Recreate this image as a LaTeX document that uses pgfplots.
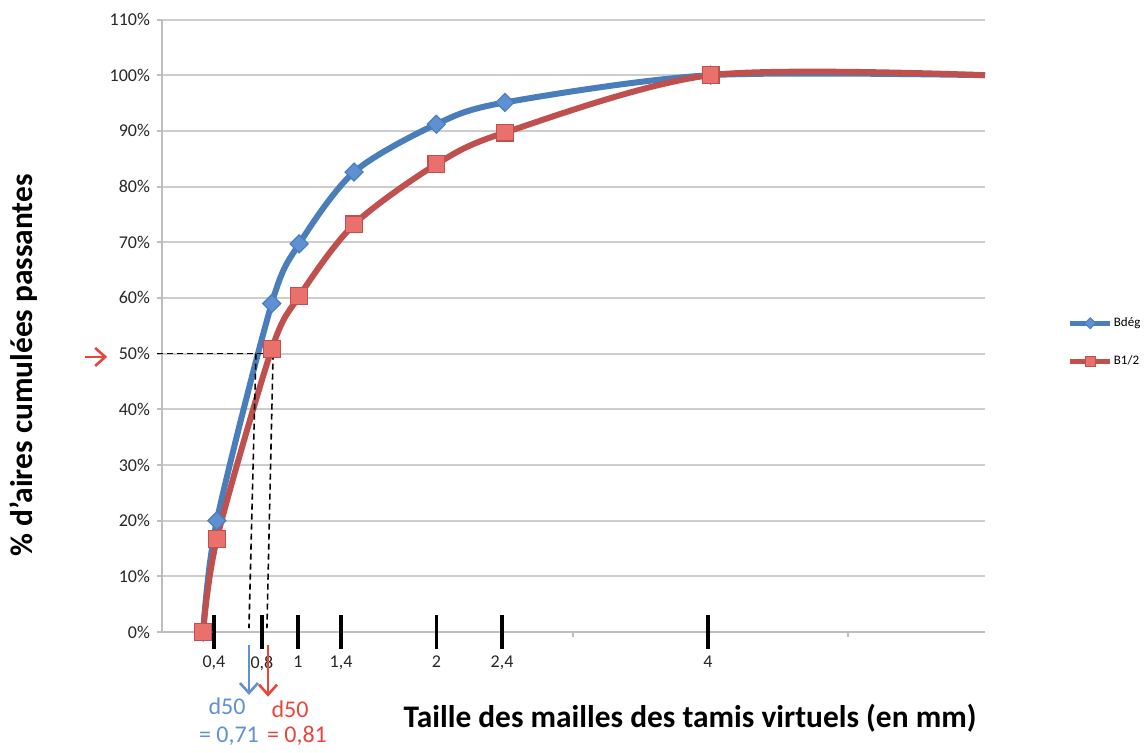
\documentclass[border=0pt]{standalone}
\usepackage{fontspec}
\setmainfont{Carlito}
\usepackage{pgfplots}
\pgfplotsset{compat=1.18}
\usetikzlibrary{arrows.meta}

\definecolor{gridgray}{RGB}{205,205,205}
\definecolor{axisgray}{RGB}{190,190,190}
\definecolor{bdegline}{RGB}{74,126,187}
\definecolor{bdegfill}{RGB}{95,145,210}
\definecolor{bhalfline}{RGB}{192,80,77}
\definecolor{bhalffill}{RGB}{234,112,108}
\definecolor{dblue}{RGB}{95,145,212}
\definecolor{dred}{RGB}{232,70,60}

\begin{document}
\begin{tikzpicture}
\useasboundingbox (-81pt,-60pt) rectangle (492pt,316pt);
\begin{axis}[
  at={(0,0)}, anchor=south west,
  scale only axis,
  width=411.5pt, height=306.25pt,
  xmin=0, xmax=6, ymin=0, ymax=110,
  axis x line*=bottom, axis y line*=left,
  axis line style={draw=axisgray, line width=1pt, -},
  ytick={0,10,...,110},
  yticklabels={0\%,10\%,20\%,30\%,40\%,50\%,60\%,70\%,80\%,90\%,100\%,110\%},
  ymajorgrids,
  major grid style={gridgray, line width=1pt},
  xtick={1,3,5}, xticklabels={},
  tick align=outside, major tick length=2.5pt,
  tick style={axisgray, line width=1pt},
  extra x ticks={0.379,0.729,0.991,1.305,2.0,2.479,3.98},
  extra x tick labels={{0,4},{0,8},1,{1,4},2,{2,4},4},
  extra x tick style={grid=none, tick align=center, major tick length=17pt,
    tick style={black, line width=1.8pt}},
  ticklabel style={font=\fontsize{9}{10}\selectfont, text=black!85},
  /pgf/number format/assume math mode=true,
  legend image code/.code={\draw[mark repeat=2,mark phase=2,#1]
    plot coordinates {(0pt,0pt)(10pt,0pt)(20pt,0pt)};},
  legend style={at={(1.1,0.4727)}, anchor=west, draw=none, fill=none,
    font=\fontsize{6.5}{7}\selectfont, inner sep=0pt, row sep=12pt,
    nodes={inner sep=0.6pt}},
  legend cell align=left,
  clip=false,
]
% Bdeg
\addplot[bdegline, line width=3pt, smooth, forget plot,
  mark=diamond*, mark indices={1,...,8},
  mark options={solid, fill=bdegfill, draw=bdegline, line width=0.6pt, mark size=4.5pt, xscale=1.33}]
  coordinates {(0.3,0) (0.4,20) (0.8,59) (1,69.7) (1.4,82.6) (2,91.2) (2.5,95.1) (4,100) (6,100)};
% B1/2
\addplot[bhalfline, line width=3pt, smooth, forget plot,
  mark=square*, mark indices={1,...,8},
  mark options={solid, fill=bhalffill, draw=bhalfline, line width=0.6pt, mark size=4.2pt}]
  coordinates {(0.3,0) (0.4,16.7) (0.8,50.8) (1,60.3) (1.4,73.2) (2,84) (2.5,89.7) (4,100) (6,100)};

\addlegendimage{bdegline, line width=2.5pt, mark=diamond*,
  mark options={fill=bdegfill, draw=bdegline, line width=0.4pt, mark size=2.8pt, xscale=1.33}}
\addlegendentry{Bdég}
\addlegendimage{bhalfline, line width=2.5pt, mark=square*,
  mark options={fill=bhalffill, draw=bhalfline, line width=0.4pt, mark size=2.5pt}}
\addlegendentry{B1/2}

% d50 construction
\draw[black, line width=0.8pt, dash pattern=on 3pt off 2pt] (axis cs:-0.036,50) -- (axis cs:0.80,50);
\draw[black, line width=0.8pt, dash pattern=on 3pt off 2pt] (axis cs:0.685,50) -- (axis cs:0.634,0.7);
\draw[black, line width=0.8pt, dash pattern=on 3pt off 2pt] (axis cs:0.81,50) -- (axis cs:0.765,0.7);

\draw[dblue, line width=1.3pt, -{Straight Barb[length=5pt,width=9pt]}] (axis cs:0.634,-2.3) -- (axis cs:0.634,-11.3);
\draw[dred, line width=1.3pt, -{Straight Barb[length=5pt,width=9pt]}] (axis cs:0.773,-2.3) -- (axis cs:0.773,-11.6);
\draw[dred, line width=1.3pt, -{Straight Barb[length=5pt,width=9pt]}] (axis cs:-0.561,49.4) -- (axis cs:-0.40,49.4);

\node[dblue, anchor=base, font=\fontsize{12}{14}\selectfont] at (axis cs:0.474,-14.9) {d50};
\node[dblue, anchor=base, font=\fontsize{12}{14}\selectfont] at (axis cs:0.488,-19.9) {= 0,71};
\node[dred, anchor=base, font=\fontsize{12}{14}\selectfont] at (axis cs:0.933,-15.3) {d50};
\node[dred, anchor=base, font=\fontsize{12}{14}\selectfont] at (axis cs:0.984,-19.9) {= 0,81};

% axis titles
\node[font=\bfseries\fontsize{15.7}{18}\selectfont] at (axis cs:3.85,-15.4) {Taille des mailles des tamis virtuels (en mm)};
\node[rotate=90, font=\bfseries\fontsize{15.7}{18}\selectfont] at (axis cs:-1.006,47.9) {\% d'aires cumulées passantes};
\end{axis}
\end{tikzpicture}
\end{document}
